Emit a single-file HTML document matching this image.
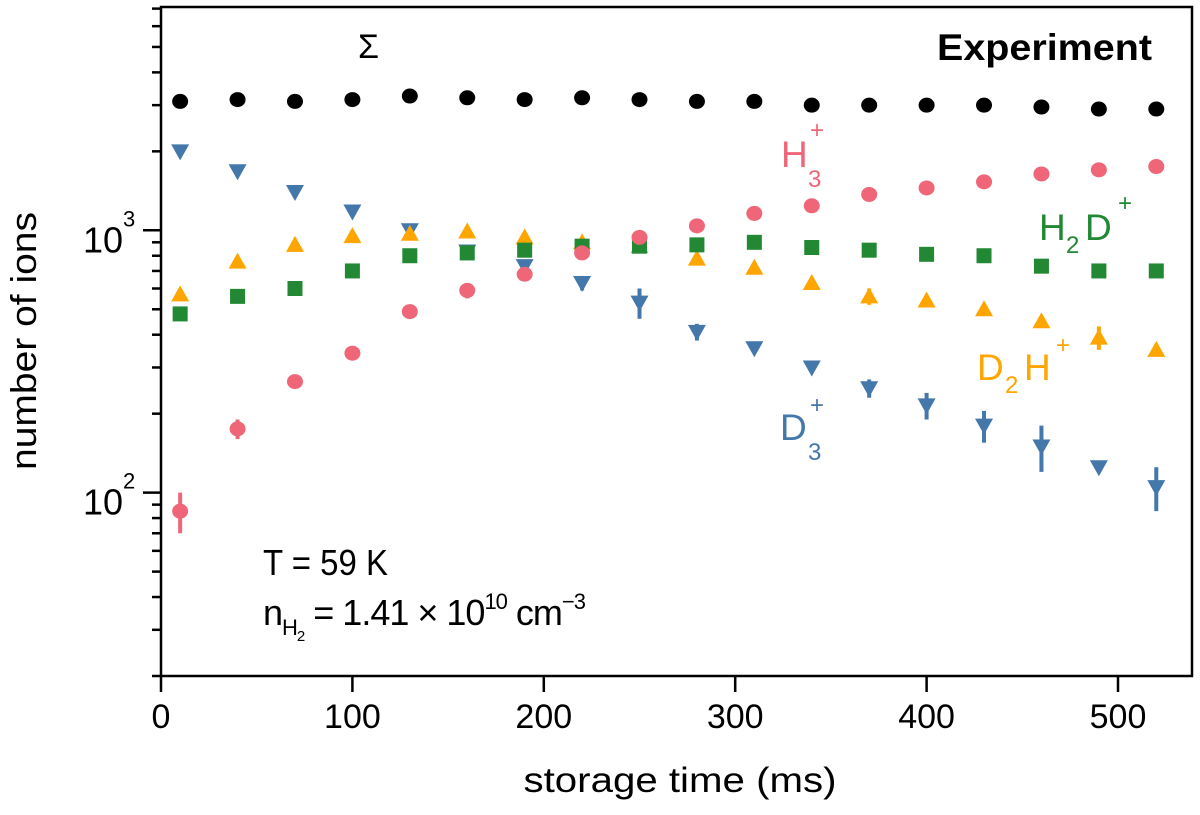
<!DOCTYPE html>
<html><head><meta charset="utf-8"><style>
html,body{margin:0;padding:0;background:#fff;}
svg text{font-family:"Liberation Sans",Arial,sans-serif;}
</style></head><body>
<svg id="chart" width="1200" height="810" viewBox="0 0 1200 810" xmlns="http://www.w3.org/2000/svg">
<g id="marks"></g>
<g id="axes"></g>
<text x="358" y="58" font-size="34" fill="#000">Σ</text>
<text x="1152" y="60" font-size="37" font-weight="bold" text-anchor="end" textLength="215" lengthAdjust="spacingAndGlyphs" fill="#000">Experiment</text>
<text x="781" y="167" font-size="37" fill="#ee6677">H</text>
<text x="808" y="187" font-size="24" fill="#ee6677">3</text>
<text x="810" y="138" font-size="24" fill="#ee6677">+</text>
<text x="1039" y="240" font-size="37" fill="#228833">H</text>
<text x="1066" y="253" font-size="24" fill="#228833">2</text>
<text x="1085" y="240" font-size="37" fill="#228833">D</text>
<text x="1118" y="211" font-size="24" fill="#228833">+</text>
<text x="977" y="380" font-size="37" fill="#ffa500">D</text>
<text x="1005" y="393" font-size="24" fill="#ffa500">2</text>
<text x="1024" y="380" font-size="37" fill="#ffa500">H</text>
<text x="1056" y="353" font-size="24" fill="#ffa500">+</text>
<text x="780" y="440" font-size="37" fill="#4477aa">D</text>
<text x="808" y="460" font-size="24" fill="#4477aa">3</text>
<text x="810" y="413" font-size="24" fill="#4477aa">+</text>
<text x="263" y="575" font-size="36" textLength="125" lengthAdjust="spacingAndGlyphs" fill="#000">T = 59 K</text>
<text x="263" y="625" font-size="36" fill="#000" letter-spacing="-1">n<tspan font-size="22" dy="10">H</tspan><tspan font-size="15" dy="6">2</tspan><tspan dy="-16"> = 1.41 × 10</tspan><tspan font-size="22" dy="-16">10</tspan><tspan dy="16"> cm</tspan><tspan font-size="22" dy="-16">−3</tspan></text>
<text x="680" y="792" font-size="35" text-anchor="middle" textLength="313" lengthAdjust="spacingAndGlyphs" fill="#000">storage time (ms)</text>
<text transform="translate(36,341) rotate(-90)" font-size="36" text-anchor="middle" textLength="258" lengthAdjust="spacingAndGlyphs" fill="#000">number of ions</text>
</svg>
<script>
const times=[10,40,70,100,130,160,190,220,250,280,310,340,370,400,430,460,490,520];
const sumVals=[3100,3150,3100,3150,3250,3200,3150,3200,3150,3100,3100,3000,3000,3000,3000,2950,2900,2900];
const d3Vals=[2000,1680,1400,1180,1000,830,730,630,530,410,355,300,250,215,180,150,125,105];
const d3Err=[0,0,0,0,0,0,0,40,70,30,0,0,20,25,25,30,0,20];
const d2hVals=[570,760,880,950,970,990,940,900,870,780,720,630,560,540,500,450,390,350];
const d2hErr=[0,0,0,0,0,0,0,0,0,0,0,0,40,0,0,0,40,0];
const h2dVals=[480,560,600,700,800,820,840,870,870,880,900,860,840,810,800,730,700,700];
const h3Vals=[85,175,265,340,490,590,680,820,940,1040,1160,1240,1370,1450,1530,1640,1700,1750];
const h3Err=[15,15,0,20,30,40,0,0,0,0,0,0,0,0,0,0,0,0];
const xTicks=[0,100,200,300,400,500];
const yMajor=[100,1000];

const X0=161,X1=1192,Y0=676,Y1=7,XMAX=(X1-X0)/1.914;
const YMIN=20,YMAX=7100;
const NS='http://www.w3.org/2000/svg';
function xs(v){return X0+v/XMAX*(X1-X0);}
function ys(v){return Y0-(Math.log10(v)-Math.log10(YMIN))/(Math.log10(YMAX)-Math.log10(YMIN))*(Y0-Y1);}
function mk(tag,attrs,parent){const e=document.createElementNS(NS,tag);for(const k in attrs)e.setAttribute(k,attrs[k]);parent.appendChild(e);return e;}
const marks=document.getElementById('marks'),axes=document.getElementById('axes');

function errbar(x,v,err,color,g){
  if(!err)return;
  const e=mk('line',{x1:x,x2:x,y1:ys(v+err),y2:ys(Math.max(v-err,1)),stroke:color,'stroke-width':4},g);
  
  
}
function series(vals,errs,color,shape,name){
  const g=mk('g',{},marks);
  
  
  vals.forEach((v,i)=>{
    const x=xs(times[i]),y=ys(v);
    if(errs)errbar(x,v,errs[i],color,g);
    let el;
    if(shape==='circle')el=mk('ellipse',{cx:x,cy:y,rx:8,ry:7.5,fill:color},g);
    else if(shape==='square')el=mk('rect',{x:x-7.5,y:y-7.5,width:15,height:15,fill:color},g);
    else if(shape==='up')el=mk('polygon',{points:`${x-9},${y+7} ${x+9},${y+7} ${x},${y-9}`,fill:color},g);
    else el=mk('polygon',{points:`${x-9},${y-7} ${x+9},${y-7} ${x},${y+9}`,fill:color},g);
    
    
  });
}
series(sumVals,null,'#000','circle','sum');
series(d3Vals,d3Err,'#4477aa','down','d3');
series(d2hVals,d2hErr,'#ffa500','up','d2h');
series(h2dVals,null,'#228833','square','h2d');
series(h3Vals,h3Err,'#ee6677','circle','h3');

const fr=mk('rect',{x:X0,y:Y1,width:X1-X0,height:Y0-Y1,fill:'none',stroke:'#000','stroke-width':2.5},axes);


xTicks.forEach(t=>{
  const x=xs(t);
  const l=mk('line',{x1:x,x2:x,y1:Y0,y2:Y0+16,stroke:'#000','stroke-width':2.5},axes);
  
  
  const tx=mk('text',{x:x,y:Y0+52,'font-size':34,'text-anchor':'middle'},axes);
  tx.textContent=t;
  
  
});
for(let d=10;d<=1000;d*=10){
  for(let m=1;m<10;m++){
    const v=d*m; if(v<YMIN||v>YMAX)continue;
    const y=ys(v),major=(m===1);
    const l=mk('line',{x1:X0-(major?18:9),x2:X0,y1:y,y2:y,stroke:'#000','stroke-width':2.5},axes);
    
    
  }
}
yMajor.forEach(v=>{
  const y=ys(v);
  const tx=mk('text',{x:X0-38,y:y+22,'font-size':36,'text-anchor':'end'},axes);
  tx.textContent='10';
  
  
  const ex=mk('text',{x:X0-38,y:y-4,'font-size':22,'text-anchor':'start'},axes);
  ex.textContent=String(Math.round(Math.log10(v)));
  
  
});
</script>
</body></html>
